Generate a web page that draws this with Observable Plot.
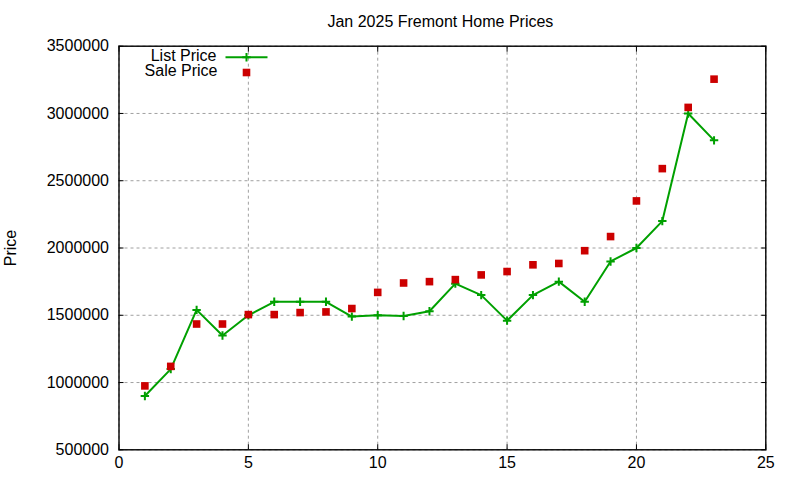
<!DOCTYPE html>
<html>
<head>
<meta charset="utf-8">
<script src="https://cdn.jsdelivr.net/npm/d3@7"></script>
<script src="https://cdn.jsdelivr.net/npm/@observablehq/plot@0.6"></script>
<style>
html, body { margin: 0; padding: 0; background: #fff; }
</style>
</head>
<body>
<div id="chart"></div>
<script>
const listIndex = [1, 2, 3, 4, 5, 6, 7, 8, 9, 10, 11, 12, 13, 14, 15, 16, 17, 18, 19, 20, 21, 22, 23];
const listPrice = [900000, 1100000, 1540000, 1350000, 1500000, 1600000, 1600000, 1600000, 1490000, 1500000, 1495000, 1530000, 1735000, 1650000, 1460000, 1650000, 1750000, 1600000, 1900000, 2000000, 2200000, 3000000, 2800000];
const saleIndex = [1, 2, 3, 4, 5, 6, 7, 8, 9, 10, 11, 12, 13, 14, 15, 16, 17, 18, 19, 20, 21, 22, 23];
const salePrice = [975000, 1120000, 1435000, 1435000, 1505000, 1505000, 1520000, 1525000, 1550000, 1670000, 1740000, 1750000, 1765000, 1800000, 1825000, 1875000, 1885000, 1980000, 2085000, 2350000, 2590000, 3045000, 3255000];
const xTicks = [0, 5, 10, 15, 20, 25];
const yTicks = [500000, 1000000, 1500000, 2000000, 2500000, 3000000, 3500000];
const titleText = ["Jan 2025 Fremont Home Prices"];
const yLabelText = ["Price"];
const listLabel = ["List Price"];
const saleLabel = ["Sale Price"];

const GREEN = "rgb(0,160,0)";
const RED = "rgb(204,0,0)";

const listData = listIndex.map((x, i) => ({x, y: listPrice[i]}));
const saleData = saleIndex.map((x, i) => ({x, y: salePrice[i]}));

const plusSymbol = { draw(ctx) { ctx.moveTo(-4.2, 0); ctx.lineTo(4.2, 0); ctx.moveTo(0, -4.2); ctx.lineTo(0, 4.2); } };
const squareSymbol = { draw(ctx) { ctx.moveTo(-3.8, -3.8); ctx.lineTo(3.8, -3.8); ctx.lineTo(3.8, 3.8); ctx.lineTo(-3.8, 3.8); ctx.closePath(); } };
const legendLine = { draw(ctx) { ctx.moveTo(-21, 0); ctx.lineTo(21, 0); } };

const chart = Plot.plot({
  width: 800,
  height: 480,
  marginLeft: 118.5,
  marginRight: 34.7,
  marginTop: 45.7,
  marginBottom: 30.7,
  style: { fontFamily: "'Liberation Sans', Arial, sans-serif", fontSize: "16px", background: "#fff", color: "#000", overflow: "visible" },
  x: { domain: [0, 25], axis: null },
  y: { domain: [500000, 3500000], axis: null },
  marks: [
    Plot.gridX(xTicks, { stroke: "#a0a0a0", strokeOpacity: 1, strokeDasharray: "3,3" }),
    Plot.gridY(yTicks, { stroke: "#a0a0a0", strokeOpacity: 1, strokeDasharray: "3,3" }),
    Plot.line(listData, { x: "x", y: "y", stroke: GREEN, strokeWidth: 2 }),
    Plot.dot(listData, { x: "x", y: "y", symbol: plusSymbol, r: 4, stroke: GREEN, strokeWidth: 2, fill: "none" }),
    Plot.dot(saleData, { x: "x", y: "y", symbol: squareSymbol, r: 4, fill: RED, stroke: "none" }),
    Plot.frame({ stroke: "#000", strokeWidth: 1.4 }),
    Plot.axisX(xTicks, { anchor: "bottom", tickSize: 0, tickPadding: 7, label: null, tickFormat: d => String(d) }),
    Plot.axisX(xTicks, { anchor: "bottom", tickSize: -5, fill: "none", label: null }),
    Plot.axisX(xTicks, { anchor: "top", tickSize: -5, fill: "none", label: null }),
    Plot.axisY(yTicks, { anchor: "left", tickSize: 0, tickPadding: 10, label: null, tickFormat: d => String(d) }),
    Plot.axisY(yTicks, { anchor: "left", tickSize: -5, fill: "none", label: null }),
    Plot.axisY(yTicks, { anchor: "right", tickSize: -5, fill: "none", label: null }),
    Plot.text(titleText, { frameAnchor: "top", lineAnchor: "middle", dx: -2, dy: -24.2, fill: "#000" }),
    Plot.text(yLabelText, { frameAnchor: "left", lineAnchor: "middle", textAnchor: "middle", dx: -108.5, rotate: -90, fill: "#000" }),
    Plot.text(listLabel, { frameAnchor: "top-left", lineAnchor: "middle", dx: 97.5, dy: 9.5, textAnchor: "end", fill: "#000" }),
    Plot.text(saleLabel, { frameAnchor: "top-left", lineAnchor: "middle", dx: 98.5, dy: 24.8, textAnchor: "end", fill: "#000" }),
    Plot.dot([0], { frameAnchor: "top-left", dx: 127.5, dy: 11, symbol: legendLine, r: 4, stroke: GREEN, strokeWidth: 2, fill: "none" }),
    Plot.dot([0], { frameAnchor: "top-left", dx: 127.5, dy: 11, symbol: plusSymbol, r: 4, stroke: GREEN, strokeWidth: 2, fill: "none" }),
    Plot.dot([0], { frameAnchor: "top-left", dx: 127.5, dy: 26.3, symbol: squareSymbol, r: 4, fill: RED, stroke: "none" })
  ]
});
document.getElementById("chart").appendChild(chart);
</script>
</body>
</html>
